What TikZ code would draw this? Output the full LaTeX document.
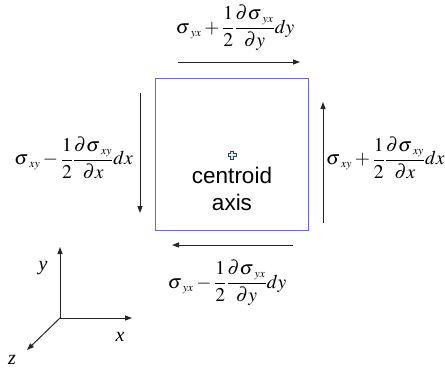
\documentclass[tikz,border=0pt]{standalone}
\usepackage{amsmath}
\usepackage{mathptmx}
\usepackage[no-math]{fontspec}
\setmainfont{Liberation Serif}
\setsansfont{Liberation Sans}
\usetikzlibrary{arrows.meta}
\newcommand{\sg}[1]{\sigma_{\mkern4mu\scriptscriptstyle #1}}
\begin{document}
\begin{tikzpicture}[x=1pt, y=-1pt,
    force/.style={draw=black!85, line width=1pt, -{Triangle[length=7pt,width=5pt]}},
    axis/.style={draw=black!85, line width=1pt, -{Triangle[length=7pt,width=5pt]}},
    stress/.style={font=\fontsize{19.5}{22}\selectfont, inner sep=1pt}]
  \useasboundingbox (0,0) rectangle (445,368);
  % the element with its centroid
  \node[draw={rgb,255:red,110;green,105;blue,200}, line width=1pt,
        minimum width=153pt, minimum height=152pt, inner sep=0pt] (elem) at (231.5,154) {};
  \coordinate (cent) at (232,155);
  \filldraw[draw=black!75, fill=cyan!20, line width=0.7pt, shift={(cent)}]
    (-1.5,-4) -- (1.5,-4) -- (1.5,-1.5) -- (4,-1.5) -- (4,1.5) -- (1.5,1.5)
    -- (1.5,4) -- (-1.5,4) -- (-1.5,1.5) -- (-4,1.5) -- (-4,-1.5) -- (-1.5,-1.5) -- cycle;
  \node[font=\sffamily\fontsize{22.5}{27}\selectfont, align=center] (axis) at (232,189) {centroid\\axis};
  % shear forces on the four faces
  \coordinate (t1) at (178,62);  \coordinate (t2) at (300,62);
  \coordinate (b1) at (293,245); \coordinate (b2) at (172,245);
  \coordinate (l1) at (140,93);  \coordinate (l2) at (140,213);
  \coordinate (r1) at (323,223); \coordinate (r2) at (323,102);
  \draw[force] (t1) -- (t2);
  \draw[force] (b1) -- (b2);
  \draw[force] (l1) -- (l2);
  \draw[force] (r1) -- (r2);
  \node[stress] (top) at (235,28)
    {$\sg{yx}+\dfrac{1}{2}\dfrac{\partial\sg{yx}}{\partial y}dy$};
  \node[stress] (bot) at (227,283)
    {$\sg{yx}-\dfrac{1}{2}\dfrac{\partial\sg{yx}}{\partial y}dy$};
  \node[stress, anchor=east] (lft) at (134,158)
    {$\sg{xy}-\dfrac{1}{2}\dfrac{\partial\sg{xy}}{\partial x}dx$};
  \node[stress, anchor=west] (rgt) at (325,158)
    {$\sg{xy}+\dfrac{1}{2}\dfrac{\partial\sg{xy}}{\partial x}dx$};
  % coordinate axes
  \coordinate (o) at (60,318);
  \coordinate (ox) at (132,318);
  \coordinate (oy) at (60,247);
  \coordinate (oz) at (27,350);
  \foreach \tip in {ox,oy,oz}
    \draw[axis] (o) -- (\tip);
  \node[font=\itshape\fontsize{20}{22}\selectfont] (lx) at (120,337) {x};
  \node[font=\itshape\fontsize{20}{22}\selectfont] (ly) at (43,268) {y};
  \node[font=\itshape\fontsize{20}{22}\selectfont] (lz) at (12,360) {z};
\end{tikzpicture}
\end{document}
